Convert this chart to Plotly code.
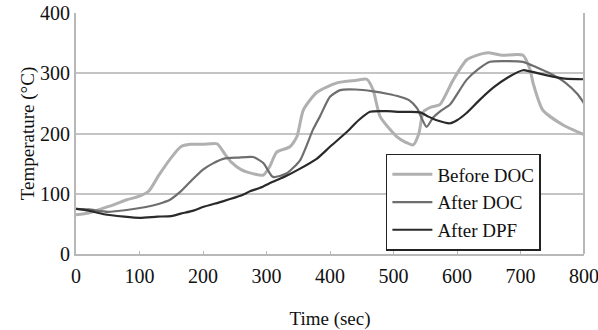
import plotly.graph_objects as go

# Before DOC
t_before = [0,20,40,60,80,100,115,130,150,165,180,200,222,235,245,260,280,295,305,316,337,348,358,379,411,440,458,468,479,505,520,531,540,547,560,573,594,615,632,649,670,704,715,720,735,767,800]
y_before = [65,68,75,82,90,96,105,130,160,178,182,182,183,165,152,140,133,131,145,169,178,195,239,268,284,288,290,272,228,195,185,181,200,236,244,248,289,322,330,334,330,330,306,283,239,214,198]

# After DOC
t_adoc = [0,20,50,80,110,130,148,164,180,200,215,232,255,279,295,310,332,353,373,384,400,416,440,468,490,510,525,537,552,562,575,589,615,635,652,680,704,725,746,770,790,800]
y_adoc = [75,74,70,73,78,83,90,103,120,140,150,158,160,161,151,128,134,156,206,228,261,272,273,270,266,261,255,242,211,226,238,248,289,308,319,320,319,310,300,285,265,250]

# After DPF
t_dpf = [0,20,44,76,100,128,150,165,185,200,230,260,274,290,310,330,350,379,400,426,445,463,490,510,526,542,555,568,589,600,615,635,657,680,704,715,740,770,800]
y_dpf = [75,72,66,62,60,62,63,67,72,78,87,97,104,110,120,129,140,158,178,202,222,236,237,236,236,235,228,222,217,222,234,255,276,293,305,303,297,291,290]

x_ticks = [0,100,200,300,400,500,600,700,800]
y_ticks = [0,100,200,300,400]

font_family = "Liberation Serif, Times New Roman, serif"

fig = go.Figure()
fig.add_trace(go.Scatter(x=t_before, y=y_before, mode="lines", name="Before DOC",
                         line=dict(color="#b0b0b0", width=3, shape="spline", smoothing=0.6)))
fig.add_trace(go.Scatter(x=t_adoc, y=y_adoc, mode="lines", name="After DOC",
                         line=dict(color="#6e6e6e", width=2.2, shape="spline", smoothing=0.6)))
fig.add_trace(go.Scatter(x=t_dpf, y=y_dpf, mode="lines", name="After DPF",
                         line=dict(color="#2a2a2a", width=2.2, shape="spline", smoothing=0.6)))

fig.update_layout(
    width=598, height=330,
    margin=dict(l=76, r=14, t=13, b=76),
    paper_bgcolor="white", plot_bgcolor="white",
    font=dict(family=font_family, size=20, color="#111"),
    showlegend=True,
    legend=dict(x=0.61, y=0.415, xanchor="left", yanchor="top",
                bgcolor="white", bordercolor="#222", borderwidth=1.5,
                font=dict(size=19, family=font_family), tracegroupgap=0,
                itemwidth=40),
    xaxis=dict(range=[0,800], tickvals=x_ticks, showgrid=False, zeroline=False,
               showline=True, linecolor="#b8b8b8", linewidth=2, mirror=False,
               ticks="inside", ticklen=3, tickcolor="#b8b8b8",
               ticklabeloverflow="allow", automargin=False, ticklabelstandoff=3,
               title=dict(text="Time (sec)", font=dict(size=19), standoff=26),
               tickfont=dict(size=20)),
    yaxis=dict(range=[0,400], tickvals=y_ticks, showgrid=True, gridcolor="#c4c4c4", gridwidth=2,
               zeroline=False, showline=True, linecolor="#b8b8b8", linewidth=2,
               ticks="", automargin=False,
               title=dict(text="Temperature (°C)", font=dict(size=19), standoff=0),
               tickfont=dict(size=20)),
)
# right border line
fig.add_shape(type="line", xref="paper", yref="paper", x0=1, x1=1, y0=0, y1=1,
              line=dict(color="#b8b8b8", width=2))

fig.write_html("out.html")
